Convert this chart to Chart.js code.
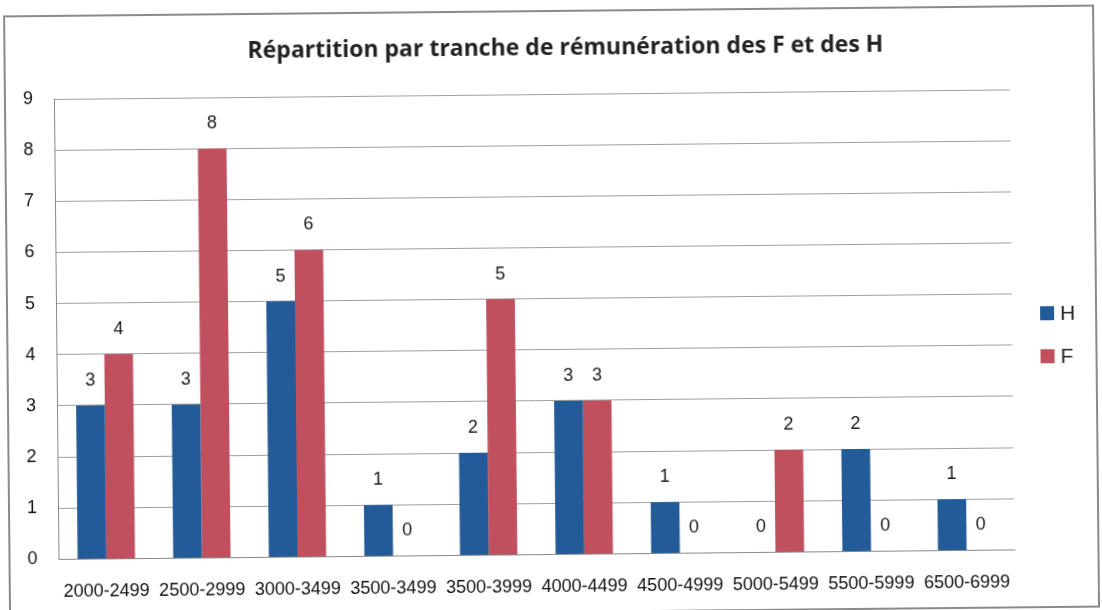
<!DOCTYPE html>
<html lang="fr">
<head>
<meta charset="utf-8">
<title>Répartition par tranche de rémunération</title>
<script src="https://cdn.jsdelivr.net/npm/chart.js@4/dist/chart.umd.min.js"></script>
<style>
  html, body { margin: 0; padding: 0; background: #fff; overflow: hidden; }
  #wrap { width: 1102px; height: 610px; overflow: hidden; position: relative; }
  #chart { position: absolute; left: 0; top: 0; transform: rotate(-0.57deg); transform-origin: 551px 305px; }
</style>
</head>
<body>
<div id="wrap"><canvas id="chart" width="1102" height="616"></canvas></div>
<script>
// tranches de salaire et effectifs
const tranches = ['2000-2499', '2500-2999', '3000-3499', '3500-3499', '3500-3999',
                  '4000-4499', '4500-4999', '5000-5499', '5500-5999', '6500-6999'];
const hommes = [3, 3, 5, 1, 2, 3, 1, 0, 2, 1];
const femmes = [4, 8, 6, 0, 5, 3, 0, 2, 0, 0];
const yTicks = [0, 1, 2, 3, 4, 5, 6, 7, 8, 9];
const titre = 'Répartition par tranche de rémunération des F et des H';

const bleu = '#225b98';
const rouge = '#c0505e';
const police = '"Liberation Sans", Arial, sans-serif';

// fond blanc, cadre et titre centré sur tout le cadre
const cadre = {
    id: 'cadre',
    beforeDraw(chart) {
        const ctx = chart.ctx;
        ctx.save();
        ctx.fillStyle = '#fff';
        ctx.fillRect(0, 0, chart.width, chart.height);
        ctx.strokeStyle = '#8a8a8a';
        ctx.lineWidth = 2;
        ctx.strokeRect(7, 11, 1089, 601);
        ctx.font = 'bold 23px "Open Sans", sans-serif';
        ctx.fillStyle = '#222';
        ctx.textAlign = 'center';
        ctx.textBaseline = 'middle';
        ctx.fillText(titre, 568, 48);
        ctx.restore();
    }
};

// valeurs au-dessus des barres
const etiquettes = {
    id: 'etiquettes',
    afterDatasetsDraw(chart) {
        const ctx = chart.ctx;
        ctx.save();
        ctx.font = '18px ' + police;
        ctx.fillStyle = '#1a1a1a';
        ctx.textAlign = 'center';
        ctx.textBaseline = 'bottom';
        chart.data.datasets.forEach((ds, i) => {
            const meta = chart.getDatasetMeta(i);
            meta.data.forEach((bar, j) => {
                ctx.fillText(String(ds.data[j]), bar.x, bar.y - 16);
            });
        });
        ctx.restore();
    }
};

// légende à droite, un carré de couleur par série
const legende = {
    id: 'legende',
    afterDraw(chart) {
        const ctx = chart.ctx;
        const x = chart.chartArea.right + 28;
        const y0 = (chart.chartArea.top + chart.chartArea.bottom) / 2 - 6;
        ctx.save();
        ctx.font = '21px ' + police;
        ctx.textBaseline = 'middle';
        chart.data.datasets.forEach((ds, i) => {
            const y = y0 + i * 43;
            ctx.fillStyle = ds.backgroundColor;
            ctx.fillRect(x, y - 7, 14, 14);
            ctx.fillStyle = '#222';
            ctx.fillText(ds.label, x + 20, y + 1);
        });
        ctx.restore();
    }
};

new Chart(document.getElementById('chart'), {
    type: 'bar',
    data: {
        labels: tranches,
        datasets: [
            { label: 'H', data: hommes, backgroundColor: bleu },
            { label: 'F', data: femmes, backgroundColor: rouge }
        ]
    },
    options: {
        responsive: false,
        animation: false,
        datasets: { bar: { categoryPercentage: 0.6, barPercentage: 1 } },
        layout: { padding: { left: 4, right: 90, top: 94, bottom: 4 } },
        plugins: {
            title: { display: false },
            legend: { display: false },
            tooltip: { enabled: false }
        },
        scales: {
            x: {
                grid: { display: false },
                border: { color: '#888', width: 1 },
                ticks: {
                    color: '#111',
                    maxRotation: 0,
                    autoSkip: false,
                    padding: 14,
                    font: { family: police, size: 18 }
                }
            },
            y: {
                min: 0,
                max: 9,
                afterBuildTicks(axis) { axis.ticks = yTicks.map(v => ({ value: v })); },
                grid: { color: '#a0a0a0', drawTicks: false },
                border: { color: '#888', width: 1 },
                ticks: {
                    color: '#111',
                    padding: 21,
                    font: { family: police, size: 18 }
                }
            }
        }
    },
    plugins: [cadre, etiquettes, legende]
});
</script>
</body>
</html>
